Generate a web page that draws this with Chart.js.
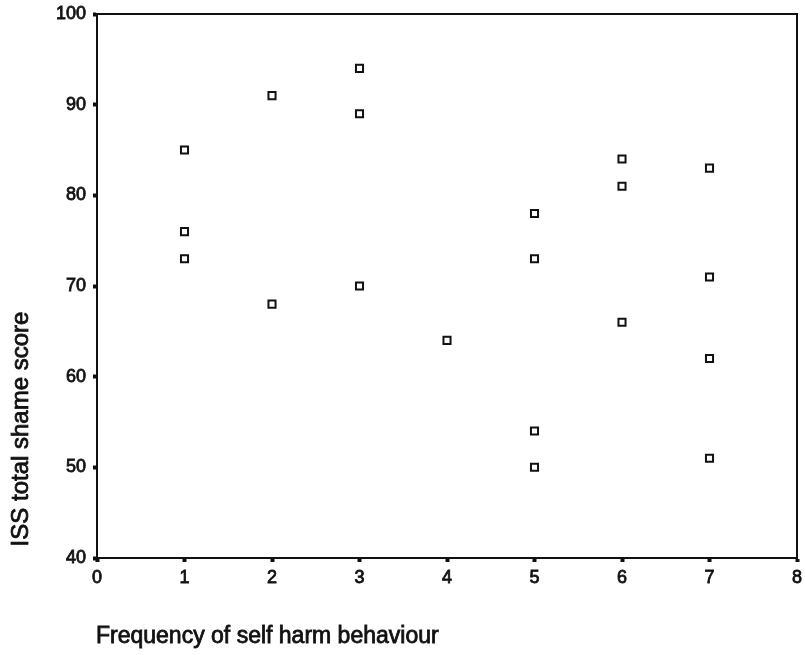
<!DOCTYPE html>
<html>
<head>
<meta charset="utf-8">
<script src="https://cdn.jsdelivr.net/npm/chart.js@4"></script>
<style>
html,body{margin:0;padding:0;background:#fff;}
#wrap{width:805px;height:655px;position:relative;}
</style>
</head>
<body>
<div id="wrap"><canvas id="c" width="805" height="655"></canvas></div>
<script>
const frequency = [1,1,1, 2,2, 3,3,3, 4, 5,5,5,5, 6,6,6, 7,7,7,7];
const shameScore = [85,76,73, 91,68, 94,89,70, 64, 78,73,54,50, 84,81,66, 83,71,62,51];
const xTicks = [0,1,2,3,4,5,6,7,8];
const yTicks = [40,50,60,70,80,90,100];
const xTitle = 'Frequency of self harm behaviour';
const yTitle = 'ISS total shame score';

const points = frequency.map((f,i)=>({x:f, y:shameScore[i]}));
const FONT = 'Liberation Sans, Arial, sans-serif';

const framePlugin = {
  id:'frame',
  afterDraw(chart){
    const {ctx, chartArea:a} = chart;
    ctx.save();
    ctx.strokeStyle = '#111';
    ctx.lineWidth = 2;
    ctx.beginPath();
    ctx.moveTo(a.left, a.top);
    ctx.lineTo(a.right, a.top);
    ctx.lineTo(a.right, a.bottom);
    ctx.stroke();
    ctx.fillStyle = '#111';
    ctx.lineWidth = 0.8;
    ctx.font = '23px ' + FONT;
    ctx.textAlign = 'left';
    ctx.textBaseline = 'middle';
    ctx.fillText(xTitle, 96, 637);
    ctx.strokeText(xTitle, 96, 637);
    ctx.font = '24px ' + FONT;
    ctx.translate(21, 429);
    ctx.rotate(-Math.PI/2);
    ctx.textAlign = 'center';
    ctx.fillText(yTitle, 0, 0);
    ctx.strokeText(yTitle, 0, 0);
    ctx.restore();
  }
};

const tickStyle = {color:'#111', font:{size:18, family:FONT}, textStrokeColor:'#111', textStrokeWidth:0.8};

new Chart(document.getElementById('c'), {
  type:'scatter',
  data:{datasets:[{
    data:points,
    pointStyle:'rect',
    pointRadius:5,
    pointHoverRadius:5,
    borderColor:'#111',
    backgroundColor:'#fff',
    borderWidth:2
  }]},
  options:{
    responsive:false,
    animation:false,
    events:[],
    layout:{padding:{top:14,right:8,left:0,bottom:0}},
    plugins:{legend:{display:false},tooltip:{enabled:false}},
    scales:{
      x:{
        type:'linear', min:xTicks[0], max:xTicks[xTicks.length-1],
        afterBuildTicks(s){ s.ticks = xTicks.map(v=>({value:v})); },
        afterFit(s){ s.height = 97; s.paddingLeft = 0; s.paddingRight = 0; },
        grid:{drawOnChartArea:false, tickLength:4, tickWidth:4, tickColor:'#111'},
        border:{color:'#111', width:2},
        ticks:Object.assign({padding:5, maxRotation:0}, tickStyle)
      },
      y:{
        type:'linear', min:yTicks[0], max:yTicks[yTicks.length-1],
        afterBuildTicks(s){ s.ticks = yTicks.map(v=>({value:v})); },
        afterFit(s){ s.width = 97; s.paddingTop = 0; s.paddingBottom = 0; },
        grid:{drawOnChartArea:false, tickLength:4, tickWidth:4, tickColor:'#111'},
        border:{color:'#111', width:2},
        ticks:Object.assign({padding:7}, tickStyle)
      }
    }
  },
  plugins:[framePlugin]
});
</script>
</body>
</html>
